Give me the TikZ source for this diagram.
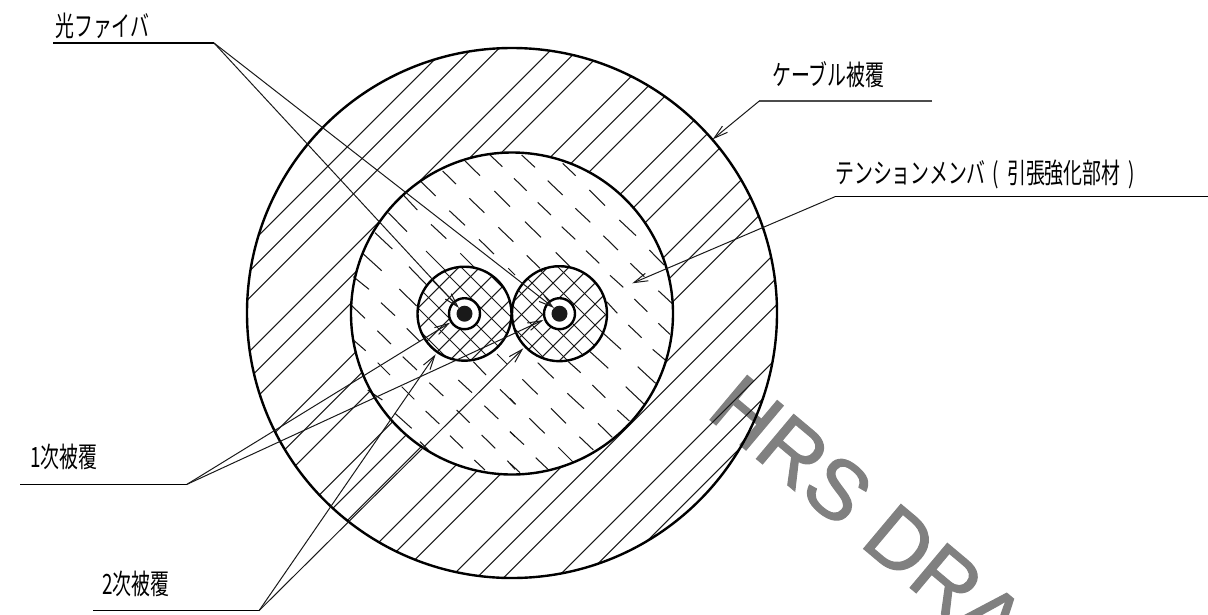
\documentclass[tikz,border=0pt]{standalone}
\usepackage{fontspec}
\usepackage{graphicx}
\usetikzlibrary{arrows.meta}
\newfontfamily\cjkfont{Noto Sans CJK JP}
\newfontfamily\wmfont[FakeBold=1.5]{Liberation Sans}
\definecolor{wmgray}{HTML}{808080}
\newcommand{\zdash}[3]{\foreach \xa/\ya/\xb/\yb in {#3} {\draw[hatchline] ({#1+\xa/3},{#2+\ya/3}) -- ({#1+\xb/3},{#2+\yb/3});}}
\newcommand{\cablabel}[1]{\scalebox{.675}[1]{\cjkfont\fontsize{28}{28}\selectfont #1}}
\tikzset{
  hatchline/.style={line width=1.05pt,draw=black!90},
  bigcircle/.style={line width=2.4pt},
  shelf/.style={line width=1.3pt},
  leader/.style={line width=1pt,draw=black!90},
  leadertip/.style={leader,-{Straight Barb[length=14pt,width=8pt]}},
  callout/.style={inner sep=0pt,anchor=west},
}
\begin{document}
\begin{tikzpicture}[x=1pt,y=-1pt]
\useasboundingbox (0,0) rectangle (1208,614);
% watermark
\begin{scope}
\clip (0,0) rectangle (1208,614);
\node[rotate=-40,anchor=south west,inner sep=0pt,text=wmgray,font=\wmfont\fontsize{84}{84}\selectfont] (wm) at (704,416) {HRS DRA};
\end{scope}
% cable sheath hatching
\begin{scope}
\clip (512,313) circle[radius=265];
\foreach \c in {494,520.7,547.4,600.8,627.5,654.2,707.6,734.3,761,814.4,841.1,867.8,921.2,947.9,974.6,1028,1054.7,1081.4,1134.8,1161.5,1188.2}
  \draw[hatchline] ({\c},0) -- ({\c-700},700);
\end{scope}
\fill[white] (512,313.5) circle[radius=161];
% tension member dashes
\zdash{345}{150}{360/33/405/77,435/15/472/50,293/63/333/102,228/95/272/138,175/135/217/180,130/188/186/245,90/248/142/297,55/312/110/362,25/380/72/418,18/465/60/505,448/123/495/170,373/145/418/188,313/182/360/226,258/223/304/266,460/232/505/275,402/268/447/312,346/310/390/354,243/303/300/360,192/350/250/410,163/417/215/468,108/458/150/497,490/355/510/375}
\zdash{510}{150}{35/15/75/52,158/40/197/77,12/85/50/122,113/92/158/135,238/120/285/167,83/157/123/195,196/175/241/217,328/210/378/257,45/215/93/262,155/230/196/268,280/257/324/300,228/302/268/340,418/300/462/345,361/340/403/380,300/376/340/412,445/422/488/462,373/447/412/485,137/307/180/350,50/316/90/355,290/455/322/490}
\zdash{510}{310}{355/45/395/83,445/40/480/73,280/70/333/118,240/125/295/175,428/118/468/152,383/170/437/220,175/155/212/188,83/158/131/205,37/208/83/253,247/225/286/263,172/250/222/296,347/230/402/282,322/300/358/333,123/295/168/340,58/325/104/370,264/340/307/382,0/265/17/283,0/365/42/404,208/380/250/420,145/412/188/455,77/443/113/477,0/460/30/488}
\zdash{345}{310}{97/62/138/102,185/55/225/95,25/90/62/122,98/158/135/195,173/140/216/180,253/218/295/258,340/210/381/248,465/238/510/282,170/230/208/268,68/240/112/270,242/303/283/342,335/300/374/338,418/287/460/327,150/310/200/355,315/377/354/415,410/375/451/415,495/365/510/380,225/395/250/420,388/450/420/480,487/452/510/478,385/155/423/195,456/132/486/162}
% fibre units
\fill[white] (464.5,313.7) circle[radius=47];
\fill[white] (559.5,313.7) circle[radius=47.5];
\begin{scope}
\clip (464.5,313.7) circle[radius=47];
\foreach \c in {705,726,747,768,789,810,831,852}
  \draw[hatchline] ({\c-200},200) -- ({\c-400},400);
\foreach \d in {-215,-194,-173,-152,-131,-110,-89}
  \draw[hatchline] ({300},{300+\d}) -- ({600},{600+\d});
\end{scope}
\begin{scope}
\clip (559.5,313.7) circle[radius=47.5];
\foreach \c in {794,815,836,857,878,899,920,941}
  \draw[hatchline] ({\c-200},200) -- ({\c-400},400);
\foreach \d in {-312,-291,-270,-249,-228,-207,-186}
  \draw[hatchline] ({400},{400+\d}) -- ({700},{700+\d});
\end{scope}
% circles
\draw[bigcircle] (512,313) circle[radius=265];
\draw[bigcircle] (512,313.5) circle[radius=161];
\draw[bigcircle] (464.5,313.7) circle[radius=47];
\draw[bigcircle] (559.5,313.7) circle[radius=47.5];
\draw[bigcircle,fill=white] (464.5,313.7) circle[radius=15.5];
\draw[bigcircle,fill=white] (559.5,313.7) circle[radius=15.5];
\fill[black!90] (464.5,313.7) circle[radius=8];
\fill[black!90] (559.5,313.7) circle[radius=8];
% leader coordinates
\coordinate (fibA) at (53,43);
\coordinate (fibB) at (214,43);
\coordinate (fibT1) at (459,308);
\coordinate (fibT2) at (554,308);
\coordinate (priA) at (20,484.3);
\coordinate (priB) at (187,484.3);
\coordinate (priT1) at (450,322.7);
\coordinate (priT2) at (543.3,320);
\coordinate (secA) at (93,610.7);
\coordinate (secB) at (259,610.7);
\coordinate (secT1) at (435.7,354.3);
\coordinate (secT2) at (523.3,348.3);
\coordinate (cabA) at (932,101);
\coordinate (cabB) at (759.3,101);
\coordinate (cabT) at (712.7,139.3);
\coordinate (tenA) at (1208,196.7);
\coordinate (tenB) at (835,196.7);
\coordinate (tenT) at (632.3,283.3);
% leaders
\draw[shelf] (fibA) -- (fibB);
\draw[leadertip] (fibB) -- (fibT1);
\draw[leadertip] (fibB) -- (fibT2);
\draw[shelf] (priA) -- (priB);
\draw[leadertip] (priB) -- (priT1);
\draw[leadertip] (priB) -- (priT2);
\draw[shelf] (secA) -- (secB);
\draw[leadertip] (secB) -- (secT1);
\draw[leadertip] (secB) -- (secT2);
\draw[shelf,draw=black!70] (cabA) -- (cabB);
\draw[leadertip] (cabB) -- (cabT);
\draw[shelf] (tenA) -- (tenB);
\draw[leadertip] (tenB) -- (tenT);
% labels
\node[callout] (lblFib) at (55,25.5) {\cablabel{光ファイバ}};
\node[callout] (lblPri) at (30,457) {\cablabel{1次被覆}};
\node[callout] (lblSec) at (102,584) {\cablabel{2次被覆}};
\node[callout] (lblCab) at (772,75) {\cablabel{ケーブル被覆}};
\node[callout] (lblTen) at (835,174.5) {\cablabel{テンションメンバ\hspace{9.5pt}(\hspace{12.7pt}引張強化部材\hspace{11pt})}};
\end{tikzpicture}
\end{document}
